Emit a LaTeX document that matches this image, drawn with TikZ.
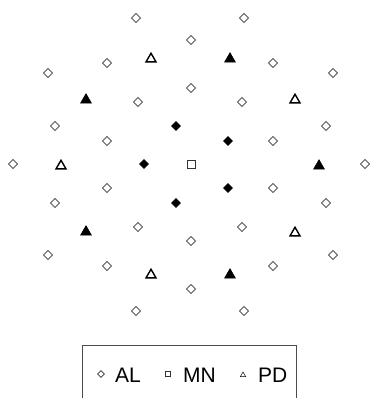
\documentclass[tikz,border=0pt]{standalone}
\usepackage{fontspec}
\setmainfont{Liberation Sans}
\usetikzlibrary{shapes.geometric}

\begin{document}
\begin{tikzpicture}[x=1pt, y=-1pt,
    alpt/.style={diamond, draw=black!65, fill=white, line width=0.9pt, inner sep=0pt, minimum size=9.5pt},
    alfill/.style={diamond, draw=black, fill=black, line width=0.8pt, inner sep=0pt, minimum size=9pt},
    mnpt/.style={rectangle, draw=black!80, fill=white, line width=0.9pt, inner sep=0pt, minimum size=8pt},
    pdopen/.style={regular polygon, regular polygon sides=3, draw=black, fill=white, line width=1.4pt, inner sep=0pt, minimum size=11.5pt},
    pdfill/.style={regular polygon, regular polygon sides=3, draw=black, fill=black, line width=0.6pt, inner sep=0pt, minimum size=12.5pt},
    legtext/.style={anchor=base west, inner sep=0pt, font=\fontsize{21}{25}\selectfont}]
    \useasboundingbox (0,0) rectangle (370,398);
    \clip (0,0) rectangle (370,398);

    % AL sites (open)
    \foreach \x/\y [count=\i] in {136/18, 244/18, 191/40, 107/63, 273/63, 48/73, 333/73,
        191/88, 138/102, 242/102, 55/126, 326/126, 107/141, 273/141, 13/164, 365/164,
        107/188, 273/188, 55/203, 326/203, 138/227, 242/227, 191/241, 48/255, 333/255,
        107/266, 273/266, 191/289, 136/311, 244/311}
        \node[alpt] (al\i) at (\x,\y) {};
    % AL sites (filled)
    \foreach \x/\y [count=\i] in {176/126, 228/141, 144/164, 228/188, 176/203}
        \node[alfill] (alf\i) at (\x,\y) {};
    % MN site
    \node[mnpt] (mn) at (191,164) {};
    % PD sites
    \foreach \x/\y [count=\i] in {151/59, 295/100, 61/166, 295/233, 151/275}
        \node[pdopen] (pdo\i) at (\x,\y) {};
    \foreach \x/\y [count=\i] in {230/59, 86/100, 319/166, 86/232, 230/275}
        \node[pdfill] (pdf\i) at (\x,\y) {};

    % legend
    \draw[black!70, line width=0.8pt] (82,410) -- (82,345) -- (296,345) -- (296,410);
    \node[alpt, draw=black!80, line width=0.6pt, minimum size=7pt] (legal) at (101,374) {};
    \node[legtext] (txtal) at (115,382) {AL};
    \node[mnpt, line width=0.6pt, minimum size=5.5pt] (legmn) at (168,374) {};
    \node[legtext] (txtmn) at (183,382) {MN};
    \node[pdopen, line width=0.5pt, minimum size=6pt] (legpd) at (243,375) {};
    \node[legtext] (txtpd) at (258,382) {PD};
\end{tikzpicture}
\end{document}
